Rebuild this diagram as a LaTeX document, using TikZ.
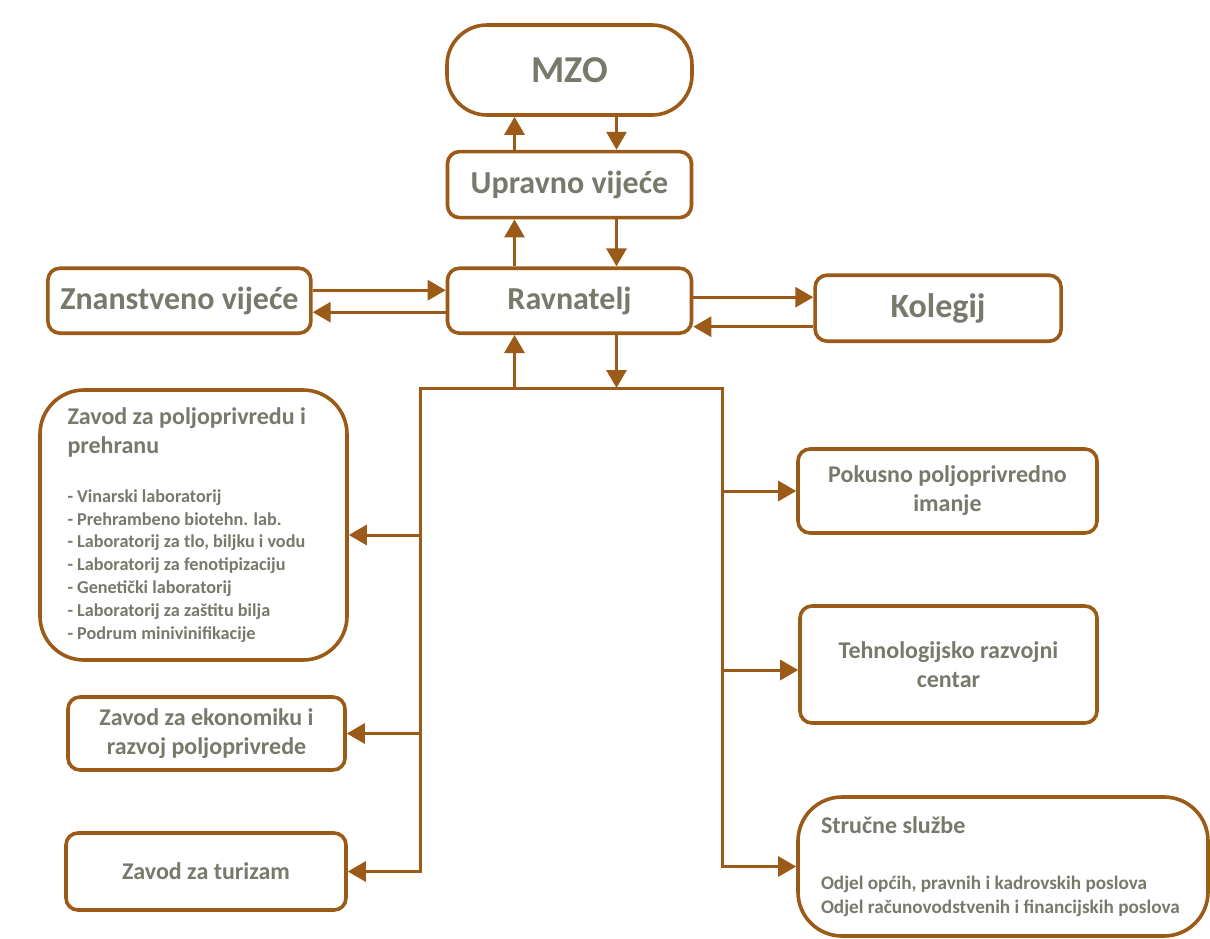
\documentclass[tikz,border=0pt]{standalone}
\usepackage{fontspec}
\setmainfont{Carlito}
\usepackage{xcolor}
\usepackage{tikz}
\usetikzlibrary{positioning,arrows.meta}

\definecolor{orgbrown}{RGB}{155,90,24}
\definecolor{orggrey}{RGB}{117,122,107}
\newcommand\headfont{\fontsize{12}{14.5}\selectfont\bfseries}
\newcommand\itemfont{\fontsize{9.1}{11.4}\selectfont\bfseries}
\newcommand\deptfont{\fontsize{9.6}{12}\selectfont\bfseries}

\begin{document}
\begin{tikzpicture}[
  x=0.5pt, y=-0.5pt,
  node distance=16.5pt,
  unit/.style={rectangle, draw=orgbrown, line width=1.8pt, rounded corners=6pt, fill=white, text=orggrey, align=center, anchor=center, inner sep=4pt, font=\fontsize{16}{19}\selectfont\bfseries},
  subunit/.style={unit, font=\headfont},
  arrow/.style={-{Triangle[length=9pt,width=10pt]}, draw=orgbrown, line width=1.5pt, line join=miter}
]
\useasboundingbox (0,0) rectangle (1210,938);

% upper levels
\node[unit, rounded corners=20pt, minimum width=122.5pt, minimum height=45pt, font=\fontsize{19}{22}\selectfont\bfseries] (mzo) at (569.5,70) {MZO};
\node[unit, minimum width=122pt, minimum height=33pt, below=16.5pt of mzo] (uprava) {Upravno vijeće};
\node[unit, minimum width=122pt, minimum height=32.5pt, below=23.5pt of uprava] (ravnatelj) {Ravnatelj};
\node[unit, minimum width=131.5pt, minimum height=32.5pt, left=66.5pt of ravnatelj] (znvijece) {Znanstveno vijeće};
\node[unit, minimum width=123pt, minimum height=33pt, right=60pt of ravnatelj, yshift=-3.75pt, font=\fontsize{17}{20}\selectfont\bfseries] (kolegij) {Kolegij};

% zavodi
\node[unit, rounded corners=22pt, minimum width=153.5pt, minimum height=135pt, text width=126pt, align=flush left, font=\itemfont] (zpp) at (193.5,525) {{\headfont Zavod za poljoprivredu i\\ prehranu\par}\vspace{13pt}
- Vinarski laboratorij\\
- Prehrambeno biotehn. lab.\\
- Laboratorij za tlo, biljku i vodu\\
- Laboratorij za fenotipizaciju\\
- Genetički laboratorij\\
- Laboratorij za zaštitu bilja\\
- Podrum minivinifikacije\par};
\node[subunit, minimum width=138.5pt, minimum height=36.5pt] (zek) at (206.5,733.5) {Zavod za ekonomiku i\\ razvoj poljoprivrede};
\node[subunit, minimum width=140pt, minimum height=38.5pt] (ztur) at (206,871.5) {Zavod za turizam};

% ostale jedinice
\node[subunit, minimum width=149.5pt, minimum height=42pt] (pokusno) at (947.5,491) {Pokusno poljoprivredno\\ imanje};
\node[subunit, minimum width=148.5pt, minimum height=58.5pt] (trc) at (948.5,664.5) {Tehnologijsko razvojni\\ centar};
\node[unit, rounded corners=22pt, minimum width=205pt, minimum height=69.5pt, text width=182pt, align=flush left, font=\deptfont] (sluzbe) at (1003,866.5) {{\headfont Stručne službe\par}\vspace{16pt}
Odjel općih, pravnih i kadrovskih poslova\\
Odjel računovodstvenih i financijskih poslova\par};

% veze
\draw[arrow] ([xshift=-27.5pt]uprava.north) -- ([xshift=-27.5pt]mzo.south);
\draw[arrow] ([xshift=23.5pt]mzo.south) -- ([xshift=23.5pt]uprava.north);
\draw[arrow] ([xshift=-27.5pt]ravnatelj.north) -- ([xshift=-27.5pt]uprava.south);
\draw[arrow] ([xshift=23.5pt]uprava.south) -- ([xshift=23.5pt]ravnatelj.north);
\draw[arrow] ([yshift=5.25pt]znvijece.east) -- ([yshift=5.25pt]znvijece.east -| ravnatelj.west);
\draw[arrow] ([yshift=-5.75pt]ravnatelj.west) -- ([yshift=-5.75pt]ravnatelj.west -| znvijece.east);
\draw[arrow] ([yshift=1.75pt]ravnatelj.east) -- ([yshift=1.75pt]ravnatelj.east -| kolegij.west);
\draw[arrow] ([yshift=-9.25pt]kolegij.west) -- ([yshift=-9.25pt]kolegij.west -| ravnatelj.east);

% sabirnica
\coordinate (busL) at (420,388);
\coordinate (busR) at (722,388);
\draw[arrow] ([xshift=-27.5pt]ravnatelj.south |- busL) -- ([xshift=-27.5pt]ravnatelj.south);
\draw[arrow] ([xshift=23.5pt]ravnatelj.south) -- ([xshift=23.5pt]ravnatelj.south |- busL);
\draw[arrow] (busR) -- (busL) -- (ztur -| busL) -- (ztur);
\draw[arrow] (busL) -- (busR) -- (sluzbe.west -| busR) -- (sluzbe.west);
\draw[arrow] ([yshift=-5pt]zpp.east -| busL) -- ([yshift=-5pt]zpp.east);
\draw[arrow] (zek -| busL) -- (zek);
\draw[arrow] (pokusno -| busR) -- (pokusno);
\draw[arrow] ([yshift=-2.75pt]trc.west -| busR) -- ([yshift=-2.75pt]trc.west);
\end{tikzpicture}
\end{document}
